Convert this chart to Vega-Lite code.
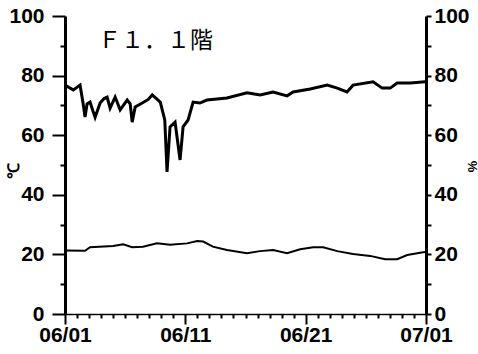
{
  "$schema": "https://vega.github.io/schema/vega-lite/v6.json",
  "width": 361,
  "height": 298,
  "autosize": {"type": "none"},
  "padding": {"left": 65, "top": 16, "right": 52, "bottom": 40},
  "background": "white",
  "config": {
    "view": {"stroke": null},
    "axis": {"grid": false, "labelFont": "Liberation Sans", "labelFontWeight": "bold", "labelColor": "black", "domainColor": "black", "tickColor": "black", "titleColor": "black"}
  },
  "datasets": {
    "rh": [
      {"t": "2000-06-01T00:00", "v": 76.8},
      {"t": "2000-06-01T08:00", "v": 76.0},
      {"t": "2000-06-01T16:30", "v": 75.2},
      {"t": "2000-06-02T06:00", "v": 76.8},
      {"t": "2000-06-02T12:00", "v": 70.8},
      {"t": "2000-06-02T16:00", "v": 66.1},
      {"t": "2000-06-02T20:00", "v": 70.5},
      {"t": "2000-06-03T02:00", "v": 71.1},
      {"t": "2000-06-03T07:00", "v": 68.5},
      {"t": "2000-06-03T12:00", "v": 66.0},
      {"t": "2000-06-03T22:00", "v": 70.8},
      {"t": "2000-06-04T06:00", "v": 72.3},
      {"t": "2000-06-04T12:00", "v": 72.8},
      {"t": "2000-06-04T18:00", "v": 69.1},
      {"t": "2000-06-05T04:00", "v": 72.8},
      {"t": "2000-06-05T14:00", "v": 68.5},
      {"t": "2000-06-06T04:00", "v": 71.8},
      {"t": "2000-06-06T10:00", "v": 70.5},
      {"t": "2000-06-06T14:00", "v": 64.4},
      {"t": "2000-06-06T20:00", "v": 69.5},
      {"t": "2000-06-07T10:00", "v": 70.8},
      {"t": "2000-06-07T22:00", "v": 72.0},
      {"t": "2000-06-08T06:00", "v": 73.5},
      {"t": "2000-06-08T22:00", "v": 71.1},
      {"t": "2000-06-09T07:00", "v": 65.1},
      {"t": "2000-06-09T11:30", "v": 47.7},
      {"t": "2000-06-09T17:30", "v": 62.8},
      {"t": "2000-06-10T03:30", "v": 64.4},
      {"t": "2000-06-10T13:30", "v": 51.7},
      {"t": "2000-06-10T19:30", "v": 62.8},
      {"t": "2000-06-11T05:30", "v": 65.1},
      {"t": "2000-06-11T15:30", "v": 71.1},
      {"t": "2000-06-12T05:00", "v": 70.8},
      {"t": "2000-06-12T19:00", "v": 71.8},
      {"t": "2000-06-14T11:00", "v": 72.5},
      {"t": "2000-06-16T03:00", "v": 74.2},
      {"t": "2000-06-17T05:00", "v": 73.5},
      {"t": "2000-06-18T07:00", "v": 74.5},
      {"t": "2000-06-19T11:00", "v": 73.2},
      {"t": "2000-06-19T23:00", "v": 74.5},
      {"t": "2000-06-21T09:00", "v": 75.5},
      {"t": "2000-06-22T19:00", "v": 76.8},
      {"t": "2000-06-23T15:00", "v": 75.8},
      {"t": "2000-06-24T10:30", "v": 74.5},
      {"t": "2000-06-24T22:30", "v": 76.8},
      {"t": "2000-06-26T14:30", "v": 77.9},
      {"t": "2000-06-27T08:30", "v": 75.8},
      {"t": "2000-06-28T00:30", "v": 75.8},
      {"t": "2000-06-28T14:30", "v": 77.5},
      {"t": "2000-06-29T16:30", "v": 77.5},
      {"t": "2000-06-30T22:30", "v": 77.9}
    ],
    "temp": [
      {"t": "2000-06-01T00:00", "v": 21.3},
      {"t": "2000-06-02T16:00", "v": 21.2},
      {"t": "2000-06-03T02:00", "v": 22.4},
      {"t": "2000-06-05T00:00", "v": 22.8},
      {"t": "2000-06-05T20:00", "v": 23.4},
      {"t": "2000-06-06T14:00", "v": 22.4},
      {"t": "2000-06-07T11:30", "v": 22.6},
      {"t": "2000-06-08T15:30", "v": 23.7},
      {"t": "2000-06-09T17:30", "v": 23.2},
      {"t": "2000-06-11T03:30", "v": 23.7},
      {"t": "2000-06-11T23:30", "v": 24.5},
      {"t": "2000-06-12T11:30", "v": 24.3},
      {"t": "2000-06-13T07:00", "v": 22.6},
      {"t": "2000-06-14T11:00", "v": 21.5},
      {"t": "2000-06-16T03:00", "v": 20.4},
      {"t": "2000-06-17T05:00", "v": 21.1},
      {"t": "2000-06-18T07:00", "v": 21.5},
      {"t": "2000-06-19T11:00", "v": 20.4},
      {"t": "2000-06-20T13:00", "v": 21.7},
      {"t": "2000-06-21T15:00", "v": 22.4},
      {"t": "2000-06-22T11:00", "v": 22.4},
      {"t": "2000-06-23T15:00", "v": 21.1},
      {"t": "2000-06-24T22:30", "v": 20.1},
      {"t": "2000-06-26T08:30", "v": 19.5},
      {"t": "2000-06-27T14:30", "v": 18.4},
      {"t": "2000-06-28T14:30", "v": 18.4},
      {"t": "2000-06-29T10:30", "v": 19.8},
      {"t": "2000-06-30T18:00", "v": 20.7},
      {"t": "2000-07-01T00:00", "v": 20.8}
    ],
    "label": [{"t": "2000-06-03T18:00", "v": 91.5, "text": "Ｆ１．１階"}]
  },
  "layer": [
    {
      "data": {"name": "temp"},
      "mark": {"type": "line", "color": "black", "strokeWidth": 2},
      "encoding": {
        "x": {
          "field": "t", "type": "temporal",
          "scale": {"domain": ["2000-06-01T00:00", "2000-07-01T00:00"]},
          "axis": {
            "title": null,
            "tickCount": {"interval": "day", "step": 1},
            "labelExpr": "(date(datum.value)==1||date(datum.value)==11||date(datum.value)==21) ? timeFormat(datum.value,'%m/%d') : ''",
            "labelOverlap": false,
            "labelFlush": false,
            "labelBound": false,
            "labelFontSize": 21,
            "labelPadding": 0,
            "tickSize": {"condition": {"test": "date(datum.value)==1||date(datum.value)==11||date(datum.value)==21", "value": 10}, "value": 4},
            "tickWidth": 2,
            "domainWidth": 1.5
          }
        },
        "y": {
          "field": "v", "type": "quantitative",
          "scale": {"domain": [0, 100]},
          "axis": {
            "title": "℃", "titleFontSize": 16, "titleFont": "Liberation Sans", "titleFontWeight": "bold",
            "titleX": -52, "titleY": 154, "titleAngle": -90, "titleBaseline": "middle", "titleAlign": "center",
            "values": [0, 10, 20, 30, 40, 50, 60, 70, 80, 90, 100],
            "labelExpr": "datum.value % 20 == 0 ? datum.label : ''",
            "labelFontSize": 21,
            "labelPadding": 8,
            "tickSize": {"condition": {"test": "datum.value % 20 == 0", "value": 13}, "value": 5},
            "tickWidth": 2,
            "domainWidth": 3
          }
        }
      }
    },
    {
      "data": {"name": "rh"},
      "mark": {"type": "line", "color": "black", "strokeWidth": 3},
      "encoding": {
        "x": {"field": "t", "type": "temporal"},
        "y": {
          "field": "v", "type": "quantitative",
          "scale": {"domain": [0, 100]},
          "axis": {
            "orient": "right",
            "title": "%", "titleFontSize": 13, "titleFont": "Liberation Sans", "titleFontWeight": "bold",
            "titleX": 45, "titleY": 150, "titleAngle": 90, "titleBaseline": "middle", "titleAlign": "center",
            "values": [0, 10, 20, 30, 40, 50, 60, 70, 80, 90, 100],
            "labelExpr": "datum.value % 20 == 0 ? datum.label : ''",
            "labelFontSize": 21,
            "labelPadding": 3,
            "tickSize": 5,
            "tickWidth": 2,
            "domainWidth": 3
          }
        }
      }
    },
    {
      "data": {"name": "label"},
      "mark": {"type": "text", "align": "left", "baseline": "middle", "font": "Noto Sans CJK JP", "fontSize": 23, "color": "black"},
      "encoding": {
        "x": {"field": "t", "type": "temporal"},
        "y": {"field": "v", "type": "quantitative", "scale": {"domain": [0, 100]}, "axis": null},
        "text": {"field": "text"}
      }
    }
  ],
  "resolve": {"scale": {"y": "independent"}}
}
